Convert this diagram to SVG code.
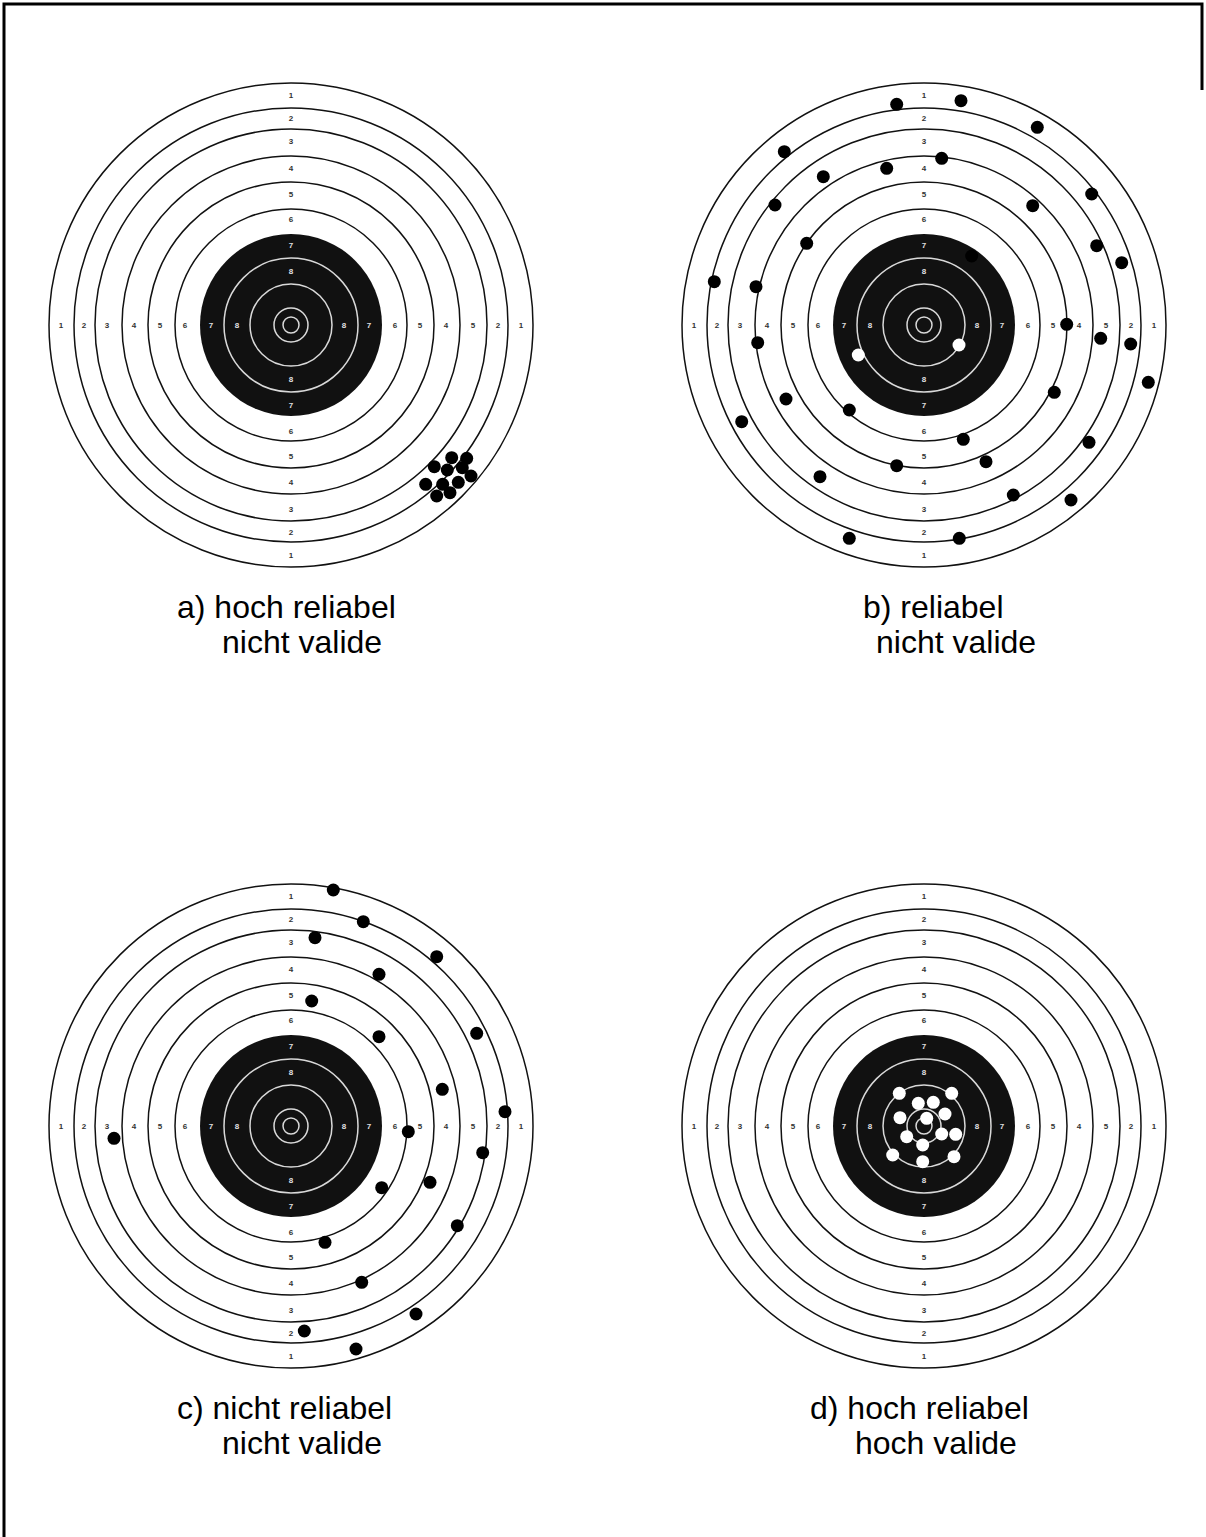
<svg xmlns="http://www.w3.org/2000/svg" xmlns:xlink="http://www.w3.org/1999/xlink" width="1206" height="1537" viewBox="0 0 1206 1537">
<style>
.bg{fill:#fff}
.outer{fill:#fff;stroke:#111;stroke-width:1.5}
.ring{fill:none;stroke:#111;stroke-width:1.5}
.bull{fill:#111}
.wring{fill:none;stroke:#d9d9d9;stroke-width:1.5}
.num{font-family:"Liberation Sans",Arial,sans-serif;font-size:8px;font-weight:bold;fill:#333;text-anchor:middle;dominant-baseline:central}
.wnum{fill:#e0e0e0}
.cap{font-family:"Liberation Sans",Arial,sans-serif;font-size:32px;fill:#000}
.hole{fill:#000}
.whole{fill:#fff}
.frame{fill:none;stroke:#000;stroke-width:3}
</style>
<defs>
<g id="target">
<circle r="242" class="outer"/>
<circle r="217" class="ring"/>
<circle r="196" class="ring"/>
<circle r="169" class="ring"/>
<circle r="143" class="ring"/>
<circle r="116" class="ring"/>
<circle r="91" class="bull"/>
<circle r="67" class="wring"/>
<circle r="41" class="wring"/>
<circle r="17" class="wring"/>
<circle r="8" class="wring"/>
<g class="num">
<text x="0" y="-230">1</text><text x="0" y="-207">2</text><text x="0" y="-184">3</text><text x="0" y="-157">4</text><text x="0" y="-131">5</text><text x="0" y="-106">6</text>
<text x="0" y="230">1</text><text x="0" y="207">2</text><text x="0" y="184">3</text><text x="0" y="157">4</text><text x="0" y="131">5</text><text x="0" y="106">6</text>
<text x="-230" y="0">1</text><text x="-207" y="0">2</text><text x="-184" y="0">3</text><text x="-157" y="0">4</text><text x="-131" y="0">5</text><text x="-106" y="0">6</text>
<text x="230" y="0">1</text><text x="207" y="0">2</text><text x="182" y="0">5</text><text x="155" y="0">4</text><text x="129" y="0">5</text><text x="104" y="0">6</text>
<g class="wnum">
<text x="0" y="-80">7</text><text x="0" y="-54">8</text><text x="0" y="80">7</text><text x="0" y="54">8</text>
<text x="-80" y="0">7</text><text x="-54" y="0">8</text><text x="78" y="0">7</text><text x="53" y="0">8</text>
</g>
</g>
</g>
</defs>
<rect class="bg" x="0" y="0" width="1206" height="1537"/>
<path class="frame" d="M4,1537 V4 H1202 V90"/>

<g id="target-a">
<use xlink:href="#target" href="#target" x="291" y="325"/>
<g class="hole">
<circle cx="451.7" cy="457.7" r="6.5"/><circle cx="466.7" cy="458.3" r="6.5"/><circle cx="434.3" cy="466.7" r="6.5"/>
<circle cx="447.3" cy="470" r="6.5"/><circle cx="462.3" cy="467.7" r="6.5"/><circle cx="471" cy="476" r="6.5"/>
<circle cx="425.7" cy="484.3" r="6.5"/><circle cx="442.7" cy="484.3" r="6.5"/><circle cx="458.3" cy="482.3" r="6.5"/>
<circle cx="436.7" cy="496" r="6.5"/><circle cx="450" cy="492.7" r="6.5"/>
</g>
<text class="cap" x="177" y="618">a) hoch reliabel</text>
<text class="cap" x="222" y="653">nicht valide</text>
</g>

<g id="target-b">
<use xlink:href="#target" href="#target" x="924" y="325"/>
<g class="hole">
<circle cx="896.7" cy="104.3" r="6.5"/><circle cx="961" cy="100.7" r="6.5"/><circle cx="1037.3" cy="127.3" r="6.5"/>
<circle cx="784.3" cy="151.7" r="6.5"/><circle cx="941.7" cy="158.3" r="6.5"/><circle cx="886.7" cy="168.3" r="6.5"/>
<circle cx="823.3" cy="176.7" r="6.5"/><circle cx="1091.7" cy="194" r="6.5"/><circle cx="775" cy="205" r="6.5"/>
<circle cx="1032.7" cy="205.7" r="6.5"/><circle cx="806.7" cy="243.3" r="6.5"/><circle cx="1096.7" cy="245.7" r="6.5"/>
<circle cx="971.7" cy="256" r="6.5"/><circle cx="1121.7" cy="262.7" r="6.5"/><circle cx="714.3" cy="281.7" r="6.5"/>
<circle cx="756" cy="286.7" r="6.5"/><circle cx="1066.7" cy="324.3" r="6.5"/><circle cx="1100.7" cy="338.3" r="6.5"/>
<circle cx="757.7" cy="342.7" r="6.5"/><circle cx="1130.7" cy="344" r="6.5"/><circle cx="1148.3" cy="382.3" r="6.5"/>
<circle cx="1054.3" cy="392.3" r="6.5"/><circle cx="786" cy="399" r="6.5"/><circle cx="849.3" cy="410" r="6.5"/>
<circle cx="741.7" cy="421.7" r="6.5"/><circle cx="1089" cy="442.3" r="6.5"/><circle cx="963.3" cy="439.3" r="6.5"/>
<circle cx="986" cy="461.7" r="6.5"/><circle cx="896.7" cy="465.7" r="6.5"/><circle cx="820" cy="476.7" r="6.5"/>
<circle cx="1013.3" cy="495" r="6.5"/><circle cx="1071" cy="500" r="6.5"/><circle cx="849.3" cy="538.3" r="6.5"/>
<circle cx="959.3" cy="538.3" r="6.5"/>
</g>
<g class="whole">
<circle cx="959" cy="345" r="6.5"/><circle cx="858.3" cy="355" r="6.5"/>
</g>
<text class="cap" x="863" y="618">b) reliabel</text>
<text class="cap" x="876" y="653">nicht valide</text>
</g>

<g id="target-c">
<use xlink:href="#target" href="#target" x="291" y="1126"/>
<g class="hole">
<circle cx="333.3" cy="890" r="6.5"/><circle cx="363.3" cy="921.7" r="6.5"/><circle cx="315" cy="937.7" r="6.5"/>
<circle cx="436.7" cy="956.7" r="6.5"/><circle cx="379" cy="974.3" r="6.5"/><circle cx="311.7" cy="1001" r="6.5"/>
<circle cx="476.7" cy="1033.3" r="6.5"/><circle cx="379" cy="1036.7" r="6.5"/><circle cx="442.3" cy="1089.3" r="6.5"/>
<circle cx="505" cy="1111.7" r="6.5"/><circle cx="408.3" cy="1131.7" r="6.5"/><circle cx="114" cy="1138.3" r="6.5"/>
<circle cx="482.7" cy="1152.7" r="6.5"/><circle cx="430" cy="1182.3" r="6.5"/><circle cx="381.7" cy="1187.7" r="6.5"/>
<circle cx="457.3" cy="1225.7" r="6.5"/><circle cx="325" cy="1242.3" r="6.5"/><circle cx="361.7" cy="1282.3" r="6.5"/>
<circle cx="416" cy="1314" r="6.5"/><circle cx="304.3" cy="1331" r="6.5"/><circle cx="356" cy="1349" r="6.5"/>
</g>
<text class="cap" x="177" y="1419">c) nicht reliabel</text>
<text class="cap" x="222" y="1454">nicht valide</text>
</g>

<g id="target-d">
<use xlink:href="#target" href="#target" x="924" y="1126"/>
<g class="whole">
<circle cx="899.3" cy="1093.3" r="6.5"/><circle cx="951.7" cy="1093.3" r="6.5"/><circle cx="918.3" cy="1103.3" r="6.5"/>
<circle cx="933.3" cy="1102.3" r="6.5"/><circle cx="945" cy="1114" r="6.5"/><circle cx="900" cy="1117.7" r="6.5"/>
<circle cx="926.7" cy="1118.3" r="6.5"/><circle cx="906.7" cy="1136.7" r="6.5"/><circle cx="941.7" cy="1134" r="6.5"/>
<circle cx="955.7" cy="1134.3" r="6.5"/><circle cx="922.7" cy="1145" r="6.5"/><circle cx="892.7" cy="1155" r="6.5"/>
<circle cx="954" cy="1156.7" r="6.5"/><circle cx="922.7" cy="1161.7" r="6.5"/>
</g>
<text class="cap" x="810" y="1419">d) hoch reliabel</text>
<text class="cap" x="855" y="1454">hoch valide</text>
</g>
</svg>
